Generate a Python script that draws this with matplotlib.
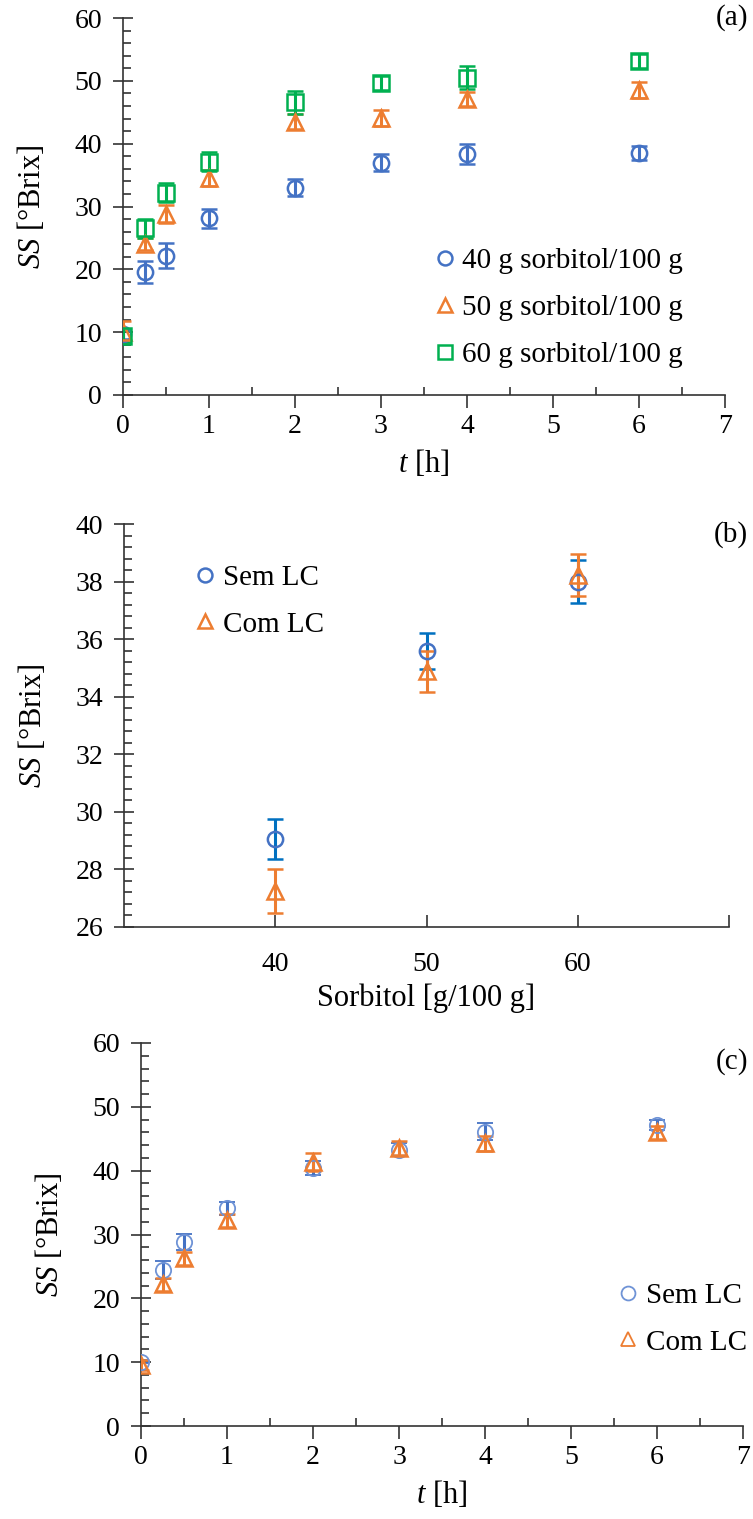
import numpy as np
import matplotlib.pyplot as plt
from matplotlib.lines import Line2D
from matplotlib.ticker import MultipleLocator, FixedLocator

plt.rcParams['font.family'] = ['Liberation Serif', 'DejaVu Serif']
plt.rcParams['mathtext.fontset'] = 'custom'
plt.rcParams['mathtext.rm'] = 'Liberation Serif'
plt.rcParams['mathtext.it'] = 'Liberation Serif:italic'
plt.rcParams['font.size'] = 20

BLUE = '#4472C4'
BLUE_DARK = '#0070C0'
ORANGE = '#ED7D31'
GREEN = '#00B050'

# (a) soluble solids vs time for three sorbitol concentrations
t = [0, 0.25, 0.5, 1, 2, 3, 4, 6]
ss_40 = [9.7, 19.6, 22.2, 28.1, 33.0, 37.0, 38.3, 38.5]
err_40 = [0.8, 1.8, 2.0, 1.5, 1.4, 1.4, 1.6, 1.1]
ss_50 = [10.0, 24.0, 28.8, 34.5, 43.5, 44.1, 47.1, 48.5]
err_50 = [1.8, 1.0, 1.4, 1.3, 1.2, 1.3, 1.1, 1.3]
ss_60 = [9.4, 26.5, 32.2, 37.1, 46.6, 49.7, 50.5, 53.1]
err_60 = [1.0, 1.5, 1.5, 1.5, 1.8, 1.1, 1.8, 1.1]
labels_a = ['40 g sorbitol/100 g', '50 g sorbitol/100 g', '60 g sorbitol/100 g']

# (b) soluble solids vs sorbitol concentration
sorb = [40, 50, 60]
ss_sem_b = [29.05, 35.6, 38.0]
err_sem_b = [0.69, 0.62, 0.76]
ss_com_b = [27.25, 34.88, 38.23]
err_com_b = [0.77, 0.71, 0.72]

# (c) with / without LC over time
ss_sem_c = [10.1, 24.4, 28.85, 34.1, 40.4, 43.3, 46.1, 47.1]
err_sem_c = [0.3, 1.4, 1.25, 1.0, 1.1, 1.0, 1.3, 0.8]
ss_com_c = [9.6, 22.2, 26.3, 32.2, 41.4, 43.6, 44.3, 46.0]
err_com_c = [0.8, 1.0, 1.0, 1.0, 1.4, 1.1, 1.2, 1.0]
labels_c = ['Sem LC', 'Com LC']

W, H = 753, 1519
fig = plt.figure(figsize=(W / 100, H / 100), dpi=100)


def make_ax(left, right, top, bottom):
    ax = fig.add_axes([left / W, 1 - bottom / H, (right - left) / W, (bottom - top) / H])
    for s in ['top', 'right']:
        ax.spines[s].set_visible(False)
    for s in ['left', 'bottom']:
        ax.spines[s].set_color('#333333')
        ax.spines[s].set_linewidth(1.2)
    return ax


def style_time_axis(ax):
    ax.set_xlim(0, 7)
    ax.set_ylim(0, 60)
    ax.xaxis.set_major_locator(MultipleLocator(1))
    ax.xaxis.set_minor_locator(MultipleLocator(0.5))
    ax.yaxis.set_major_locator(MultipleLocator(10))
    ax.yaxis.set_minor_locator(MultipleLocator(2))
    ax.tick_params(axis='x', which='major', direction='out', length=9, width=1.2, pad=5, color='#333333')
    ax.tick_params(axis='x', which='minor', direction='in', length=6, width=1.2, color='#333333')
    ax.tick_params(axis='y', which='major', direction='inout', length=14, width=1.2, pad=8, color='#333333')
    ax.tick_params(axis='y', which='minor', direction='in', length=6, width=1.2, color='#333333')
    ax.set_xlabel(r'$t$ [h]', fontsize=22, labelpad=6)
    ax.set_ylabel(r'$SS$ [°Brix]', fontsize=22, labelpad=20)


def draw(ax, x, y, e, marker, color, ecolor, ms=11, mew=1.8):
    ax.errorbar(x, y, yerr=e, fmt=marker, ms=ms, mfc='none', mec=color, mew=mew,
                ecolor=ecolor, elinewidth=2.2, capsize=5.5, capthick=2.2, zorder=3)


def marker_legend(ax, markers, colors, labels, loc, mew=1.8):
    handles = [Line2D([], [], ls='none', marker=m, ms=10, mfc='none', mec=c, mew=mew)
               for m, c in zip(markers, colors)]
    ax.legend(handles, labels, loc='upper left', bbox_to_anchor=loc, frameon=False,
              fontsize=21, handletextpad=0.1, handlelength=1.0, labelspacing=0.7,
              borderaxespad=0, borderpad=0)


# panel (a)
ax1 = make_ax(123, 725, 18, 395)
style_time_axis(ax1)
draw(ax1, t, ss_40, err_40, 'o', BLUE, BLUE)
draw(ax1, t, ss_50, err_50, '^', ORANGE, ORANGE)
draw(ax1, t, ss_60, err_60, 's', GREEN, GREEN)
marker_legend(ax1, ['o', '^', 's'], [BLUE, ORANGE, GREEN], labels_a, (0.51, 0.39))
fig.text(748, H - 18, '(a)', transform=None, fontsize=21, ha='right', va='center')

# panel (b)
ax2 = make_ax(124, 729, 524, 927)
ax2.set_xlim(30, 70)
ax2.set_ylim(26, 40)
ax2.xaxis.set_major_locator(FixedLocator([40, 50, 60, 70]))
ax2.set_xticklabels(['40', '50', '60', ''])
ax2.yaxis.set_major_locator(MultipleLocator(2))
ax2.yaxis.set_minor_locator(MultipleLocator(0.4))
ax2.tick_params(axis='x', which='major', direction='in', length=9, width=1.2, pad=18, color='#333333')
ax2.tick_params(axis='y', which='major', direction='inout', length=14, width=1.2, pad=8, color='#333333')
ax2.tick_params(axis='y', which='minor', direction='in', length=6, width=1.2, color='#333333')
ax2.set_xlabel('Sorbitol [g/100 g]', fontsize=22, labelpad=5)
ax2.set_ylabel(r'$SS$ [°Brix]', fontsize=22, labelpad=20)
draw(ax2, sorb, ss_sem_b, err_sem_b, 'o', BLUE, BLUE_DARK)
draw(ax2, sorb, ss_com_b, err_com_b, '^', ORANGE, ORANGE)
marker_legend(ax2, ['o', '^'], [BLUE, ORANGE], labels_c, (0.11, 0.9))
fig.text(748, H - 535, '(b)', transform=None, fontsize=21, ha='right', va='center')

# panel (c)
ax3 = make_ax(141, 743, 1043, 1426)
style_time_axis(ax3)
draw(ax3, t, ss_sem_c, err_sem_c, 'o', '#6F93D6', BLUE, mew=1.3)
draw(ax3, t, ss_com_c, err_com_c, '^', ORANGE, ORANGE)
marker_legend(ax3, ['o', '^'], ['#6F93D6', ORANGE], labels_c, (0.785, 0.375), mew=1.3)
fig.text(748, H - 1062, '(c)', transform=None, fontsize=21, ha='right', va='center')

fig.savefig('out.png', dpi=100)
